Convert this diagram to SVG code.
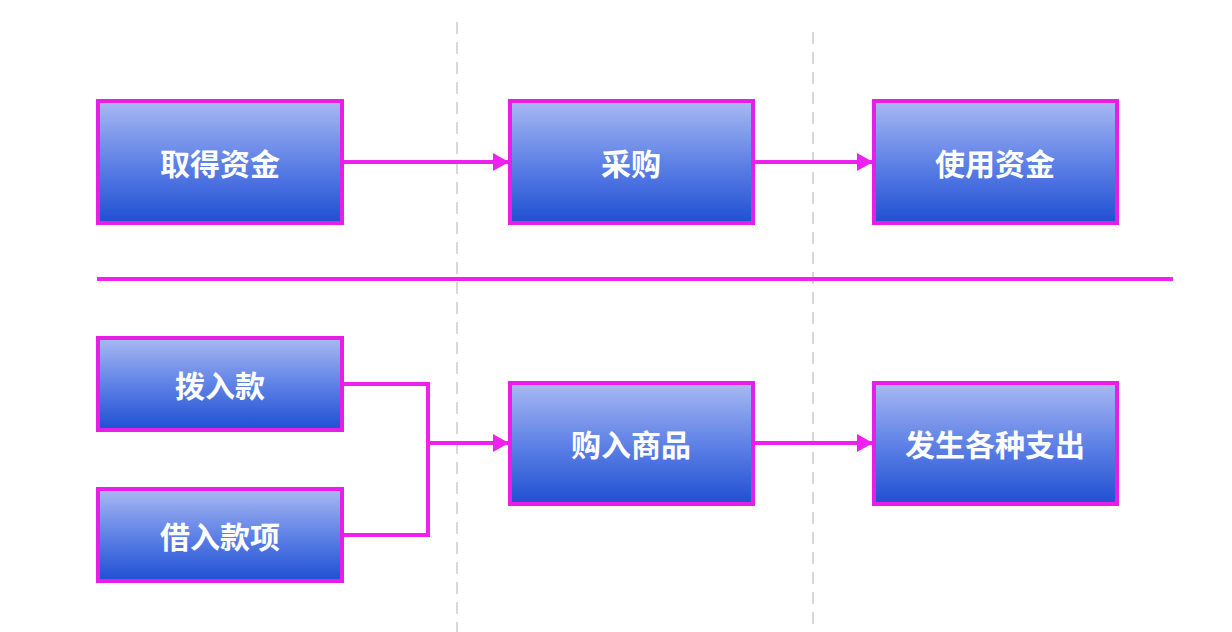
<svg xmlns="http://www.w3.org/2000/svg" width="1232" height="632" viewBox="0 0 1232 632">
<defs>
<linearGradient id="g" x1="0" y1="0" x2="0" y2="1">
<stop offset="0" stop-color="#a9b9f2"/>
<stop offset="0.5" stop-color="#5f82e6"/>
<stop offset="1" stop-color="#1f4fd2"/>
</linearGradient>
<marker id="ah2" viewBox="0 0 16 18" refX="16" refY="9" markerWidth="16" markerHeight="18" orient="auto" markerUnits="userSpaceOnUse">
<path d="M0,0 L16,9 L0,18 Z" fill="#ee22ee"/>
</marker>
</defs>
<style>
.box{fill:url(#g);stroke:#e61ee6;stroke-width:4}
.lbl{font-family:"Noto Sans CJK SC","Noto Sans",sans-serif;font-weight:bold;font-size:30px;fill:#ffffff;text-anchor:middle;dominant-baseline:central}
.con{fill:none;stroke:#ee22ee;stroke-width:4}
.guide{stroke:#d8d8d8;stroke-width:2;stroke-dasharray:12 8}
</style>
<rect width="1232" height="632" fill="#ffffff"/>
<g id="guides">
<line class="guide" x1="457" y1="22" x2="457" y2="632"/>
<line class="guide" x1="813" y1="32" x2="813" y2="632"/>
</g>
<g id="connectors">
<line class="con" x1="343" y1="162" x2="509" y2="162" marker-end="url(#ah2)"/>
<line class="con" x1="754" y1="162" x2="873" y2="162" marker-end="url(#ah2)"/>
<line x1="97" y1="279" x2="1173" y2="279" stroke="#ee22ee" stroke-width="4"/>
<polyline class="con" points="343,384 428,384 428,535 343,535"/>
<line class="con" x1="428" y1="443" x2="509" y2="443" marker-end="url(#ah2)"/>
<line class="con" x1="754" y1="443" x2="873" y2="443" marker-end="url(#ah2)"/>
</g>
<g id="n1"><rect class="box" x="98" y="101" width="244" height="122"/><text class="lbl" x="220" y="162">取得资金</text></g>
<g id="n2"><rect class="box" x="510" y="101" width="243" height="122"/><text class="lbl" x="631" y="162">采购</text></g>
<g id="n3"><rect class="box" x="874" y="101" width="243" height="122"/><text class="lbl" x="995" y="162">使用资金</text></g>
<g id="n4"><rect class="box" x="98" y="338" width="244" height="92"/><text class="lbl" x="220" y="384">拨入款</text></g>
<g id="n5"><rect class="box" x="98" y="489" width="244" height="92"/><text class="lbl" x="220" y="535">借入款项</text></g>
<g id="n6"><rect class="box" x="510" y="383" width="243" height="121"/><text class="lbl" x="631" y="443">购入商品</text></g>
<g id="n7"><rect class="box" x="874" y="383" width="243" height="121"/><text class="lbl" x="995" y="443">发生各种支出</text></g>
</svg>
